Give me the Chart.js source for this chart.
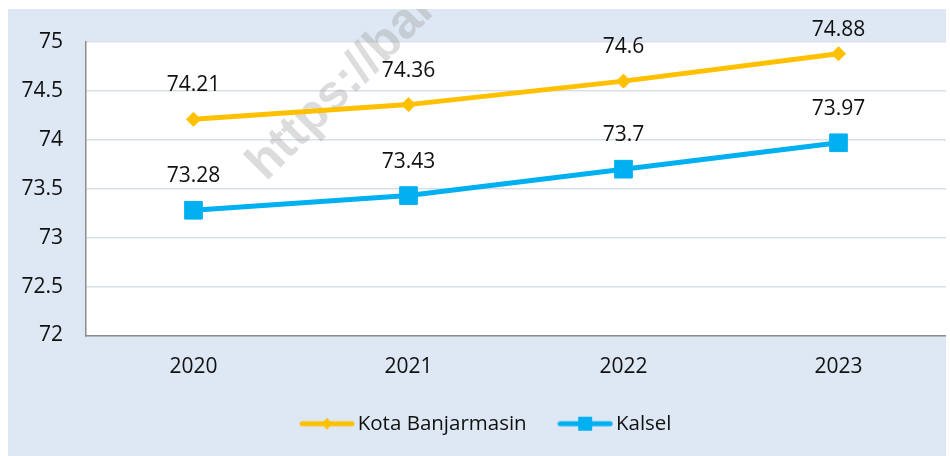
<!DOCTYPE html>
<html>
<head>
<meta charset="utf-8">
<script src="https://cdn.jsdelivr.net/npm/chart.js@4.4.0/dist/chart.umd.min.js"></script>
<style>
  html, body { margin: 0; padding: 0; background: #ffffff; }
  #box {
    position: absolute; left: 8px; top: 9px;
    width: 938px; height: 447px;
    background: #dde8f4;
  }
</style>
</head>
<body>
<div id="box"><canvas id="chart"></canvas></div>
<script>
// categories and series
const years = ['2020', '2021', '2022', '2023'];
const kotaBanjarmasin = [74.21, 74.36, 74.6, 74.88];
const kalsel = [73.28, 73.43, 73.7, 73.97];
// y axis range
const yMin = 72;
const yMax = 75;
const yStep = 0.5;

const yellow = '#ffc000';
const blue = '#00b0f0';
const fontFamily = '"Open Sans", "Noto Sans", sans-serif';

//small line+marker picture used as legend symbol
function legendSwatch(color, marker) {
  const c = document.createElement('canvas');
  c.width = 56;
  c.height = 16;
  const g = c.getContext('2d');
  g.strokeStyle = color;
  g.fillStyle = color;
  g.lineWidth = 5;
  g.lineCap = 'round';
  g.beginPath();
  g.moveTo(3, 8);
  g.lineTo(53, 8);
  g.stroke();
  if (marker === 'diamond') {
    g.beginPath();
    g.moveTo(28, 2);
    g.lineTo(33, 8);
    g.lineTo(28, 14);
    g.lineTo(23, 8);
    g.closePath();
    g.fill();
  } else {
    g.fillRect(21, 1, 14, 14);
  }
  return c;
}

//white plot area
const plotBackground = {
  id: 'plotBackground',
  beforeDraw(chart) {
    const { ctx, chartArea: a } = chart;
    ctx.save();
    ctx.fillStyle = '#ffffff';
    ctx.fillRect(a.left, a.top, a.right - a.left, a.bottom - a.top);
    ctx.restore();
  }
};

//faint watermark text
const watermark = {
  id: 'watermark',
  beforeDatasetsDraw(chart) {
    const ctx = chart.ctx;
    ctx.save();
    ctx.translate(258, 173);
    ctx.rotate(-Math.PI / 4);
    ctx.font = 'bold 50px "Liberation Sans", Arial, sans-serif';
    ctx.fillStyle = 'rgba(150, 150, 150, 0.33)';
    ctx.textBaseline = 'alphabetic';
    ctx.fillText('https://banjarmasinkota.bps.go.id', 0, 0);
    ctx.restore();
  }
};

//value labels above each point (kept inside the chart box at the top)
const valueLabels = {
  id: 'valueLabels',
  afterDatasetsDraw(chart) {
    const ctx = chart.ctx;
    ctx.save();
    ctx.font = '21px ' + fontFamily;
    ctx.fillStyle = '#111111';
    ctx.textAlign = 'center';
    ctx.textBaseline = 'alphabetic';
    chart.data.datasets.forEach((ds, i) => {
      chart.getDatasetMeta(i).data.forEach((pt, j) => {
        ctx.fillText(String(ds.data[j]), pt.x, Math.max(pt.y - 28, 27));
      });
    });
    ctx.restore();
  }
};

//move legend a bit right, like the original
const legendShift = {
  id: 'legendShift',
  afterLayout(chart) {
    chart.legend.left += 12;
    chart.legend.right += 12;
  }
};

Chart.defaults.font.family = fontFamily;
Chart.defaults.color = '#111111';

new Chart(document.getElementById('chart'), {
  type: 'line',
  plugins: [plotBackground, watermark, valueLabels, legendShift],
  data: {
    labels: years,
    datasets: [
      {
        label: 'Kota Banjarmasin',
        data: kotaBanjarmasin,
        borderColor: yellow,
        backgroundColor: yellow,
        borderWidth: 5,
        pointStyle: 'rectRot',
        pointRadius: 7,
        pointBorderWidth: 1,
        pointHoverRadius: 7,
        legendSwatch: legendSwatch(yellow, 'diamond')
      },
      {
        label: 'Kalsel',
        data: kalsel,
        borderColor: blue,
        backgroundColor: blue,
        borderWidth: 5,
        pointStyle: 'rect',
        pointRadius: 12.5,
        pointBorderWidth: 1,
        pointHoverRadius: 12.5,
        legendSwatch: legendSwatch(blue, 'square')
      }
    ]
  },
  options: {
    responsive: true,
    maintainAspectRatio: false,
    animation: false,
    layout: {
      autoPadding: false,
      padding: { top: 33, right: 0, bottom: 12, left: 0 }
    },
    plugins: {
      tooltip: { enabled: false },
      legend: {
        position: 'bottom',
        labels: {
          usePointStyle: true,
          pointStyleWidth: 41,
          padding: 38,
          font: { size: 20.5 },
          color: '#111111',
          generateLabels: (chart) => chart.data.datasets.map((ds, i) => ({
            text: ds.label,
            pointStyle: ds.legendSwatch,
            fillStyle: 'transparent',
            strokeStyle: 'transparent',
            lineWidth: 0,
            hidden: false,
            datasetIndex: i,
            fontColor: '#111111'
          }))
        }
      }
    },
    scales: {
      x: {
        offset: true,
        grid: { display: false, drawTicks: false },
        border: { display: true, color: '#8c8c8c', width: 1.5 },
        ticks: { font: { size: 21 }, padding: 19 },
        afterFit: (scale) => {
          scale.height = 40;
          scale.paddingLeft = 0;
          scale.paddingRight = 0;
        }
      },
      y: {
        min: yMin,
        max: yMax,
        ticks: {
          stepSize: yStep,
          font: { size: 21 },
          padding: 23,
          callback: (v) => String(v)
        },
        grid: { color: '#d9dfe7', lineWidth: 1.5, drawTicks: false },
        border: { display: true, color: '#8c8c8c', width: 1.5 },
        afterFit: (scale) => {
          scale.width = 78;
          scale.paddingTop = 0;
          scale.paddingBottom = 0;
        }
      }
    }
  }
});
</script>
</body>
</html>
